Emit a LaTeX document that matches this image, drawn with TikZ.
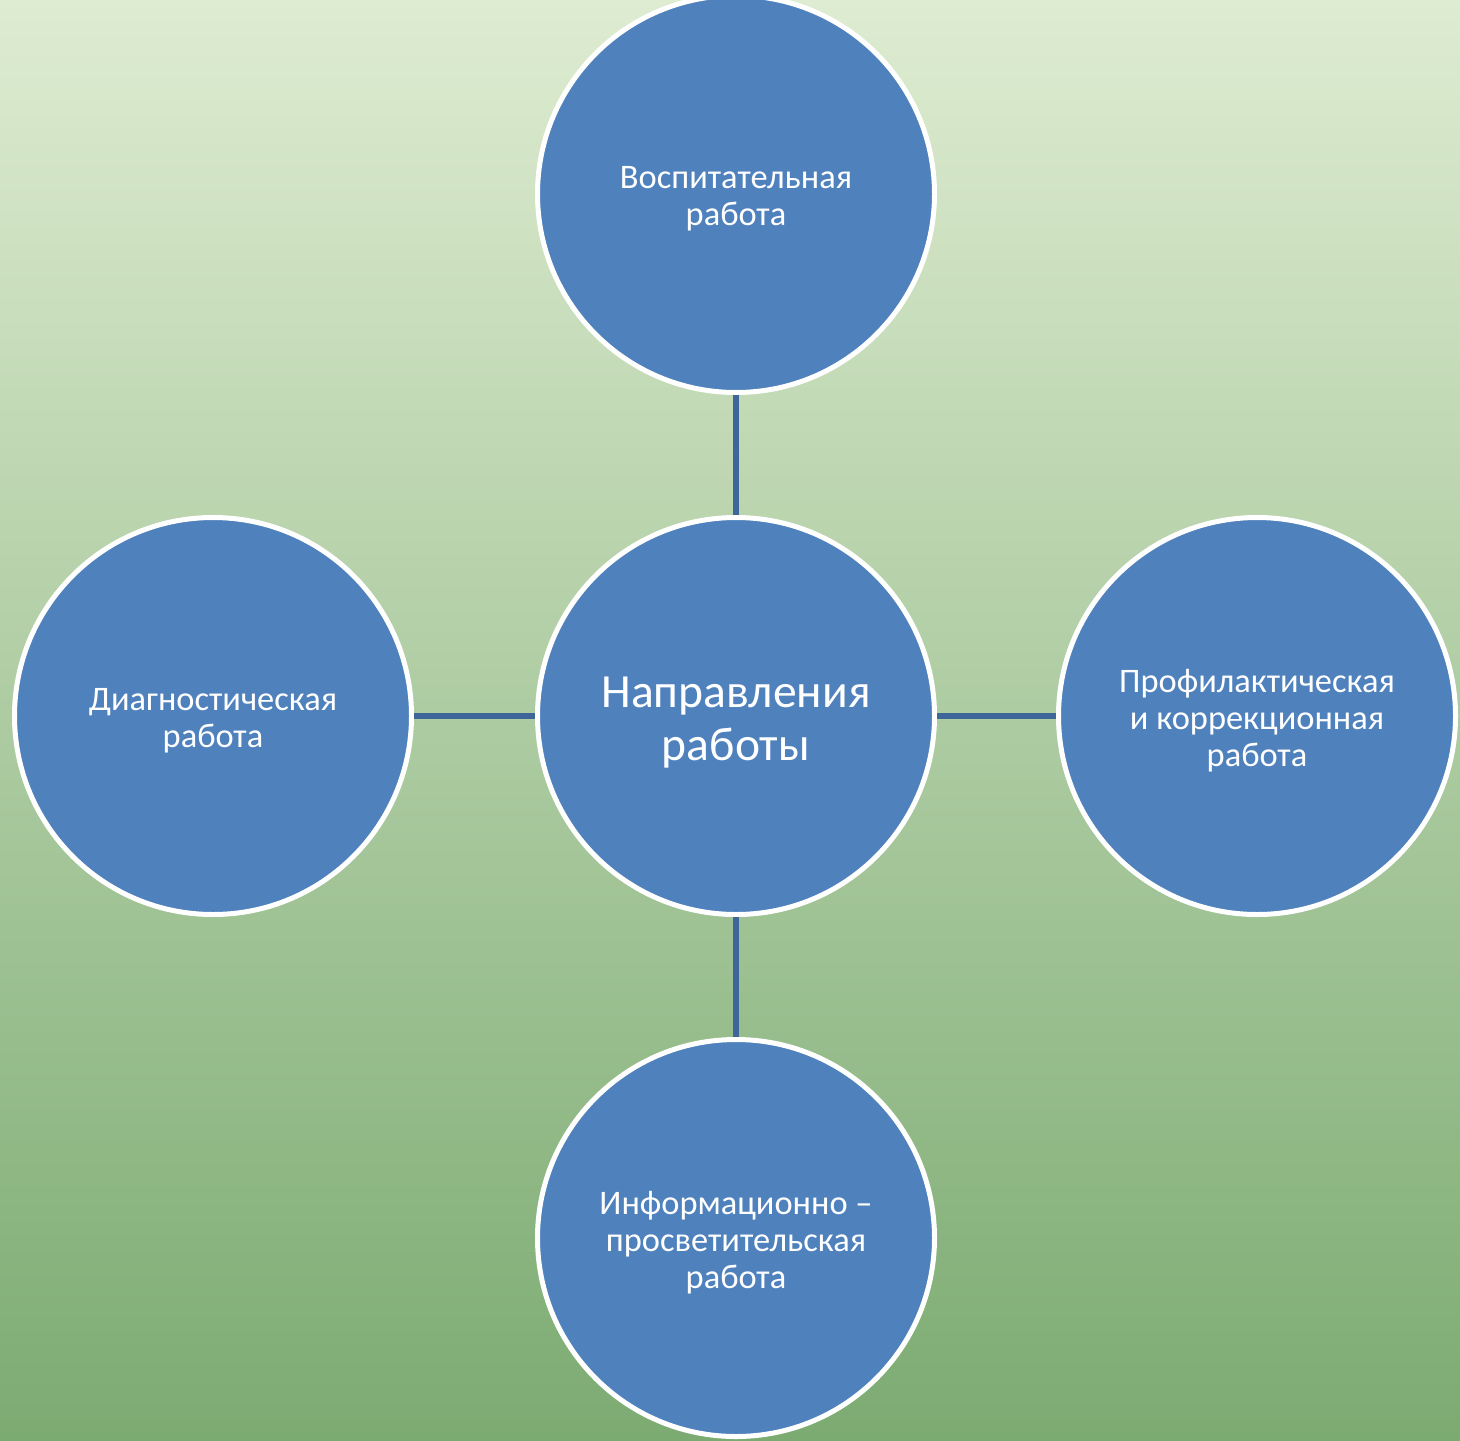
\documentclass[tikz,border=0pt]{standalone}
\usepackage{fontspec}
\setmainfont{Carlito}
\definecolor{bgtop}{RGB}{222,236,209}
\definecolor{bgbot}{RGB}{124,171,114}
\definecolor{circfill}{RGB}{79,129,189}
\definecolor{linkcol}{RGB}{62,102,152}
\begin{document}
\begin{tikzpicture}[x=0.5pt,y=-0.5pt,
  bubble/.style={circle,fill=circfill,draw=white,line width=2.5pt,minimum size=198.5pt,inner sep=0pt},
  smalltext/.style={align=center,text=white,inner sep=0pt,yshift=-2.2pt,font=\fontsize{17.2}{18.5}\selectfont},
  bigtext/.style={smalltext,yshift=-1pt,font=\fontsize{23.8}{26.5}\selectfont},
  link/.style={draw=linkcol,line width=2.8pt}]
\fill[top color=bgtop,bottom color=bgbot] (0,0) rectangle (1460,1440);
\useasboundingbox (0,0) rectangle (1460,1440);
\node[bubble,label={[bigtext]center:Направления\\работы}] (c) at (736,716) {};
\node[bubble,label={[smalltext]center:Воспитательная\\работа}] (t) at (736,194) {};
\node[bubble,label={[smalltext]center:Диагностическая\\работа}] (l) at (213,716) {};
\node[bubble,label={[smalltext]center:Профилактическая\\и коррекционная\\работа}] (r) at (1257,716) {};
\node[bubble,label={[smalltext]center:Информационно –\\просветительская\\работа}] (b) at (736,1238) {};
\draw[link] (t.south) -- (c.north);
\draw[link] (c.south) -- (b.north);
\draw[link] (l.east) -- (c.west);
\draw[link] (c.east) -- (r.west);
\end{tikzpicture}
\end{document}
